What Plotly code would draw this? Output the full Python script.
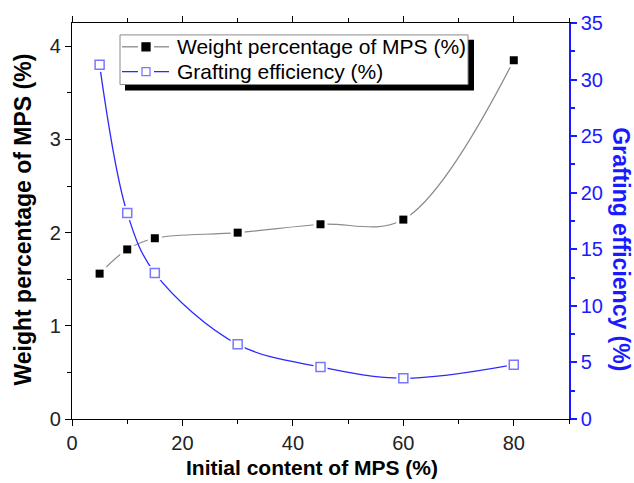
import plotly.graph_objects as go

# MPS loading series
initial_mps = [5, 10, 15, 30, 45, 60, 80]
weight_pct = [1.56, 1.82, 1.94, 2.00, 2.09, 2.14, 3.85]
grafting_eff = [31.3, 18.2, 12.9, 6.6, 4.6, 3.6, 4.8]

series_names = ["Weight percentage of MPS (%)", "Grafting efficiency (%)"]

W, H = 634, 483
L, R, T, B = 72, 65, 20, 64
FONT = "Liberation Sans, Arial, sans-serif"
BLUE = "#1a1aff"
BLUE_LINE = "#2a2aff"
BLUE_MARK = "#7878ff"
GRAY = "#8a8a8a"

pw, ph = W - L - R, H - T - B


def px_x(p):
    return (p - L) / pw


def px_y(p):
    return (H - B - p) / ph


fig = go.Figure()

# Grafting efficiency (right axis): line, white halo, open markers
fig.add_trace(go.Scatter(
    x=initial_mps, y=grafting_eff, yaxis="y2", name=series_names[1], showlegend=False,
    mode="lines", line=dict(color=BLUE_LINE, width=1.3, shape="spline"),
))
fig.add_trace(go.Scatter(
    x=initial_mps, y=grafting_eff, yaxis="y2", showlegend=False, hoverinfo="skip",
    mode="markers", marker=dict(symbol="square", size=14, color="white"),
))
fig.add_trace(go.Scatter(
    x=initial_mps, y=grafting_eff, yaxis="y2", showlegend=False, name=series_names[1],
    mode="markers",
    marker=dict(symbol="square", size=9, color="white", line=dict(color=BLUE_MARK, width=1.5)),
))

# Weight percentage (left axis): line, white halo, filled markers
fig.add_trace(go.Scatter(
    x=initial_mps, y=weight_pct, name=series_names[0], showlegend=False,
    mode="lines", line=dict(color=GRAY, width=1.2, shape="spline"),
))
fig.add_trace(go.Scatter(
    x=initial_mps, y=weight_pct, showlegend=False, hoverinfo="skip",
    mode="markers", marker=dict(symbol="square", size=14, color="white"),
))
fig.add_trace(go.Scatter(
    x=initial_mps, y=weight_pct, showlegend=False, name=series_names[0],
    mode="markers", marker=dict(symbol="square", size=8, color="black"),
))

# Legend box with drop shadow
shapes = []
shapes.append(dict(type="rect", xref="paper", yref="paper",
                   x0=px_x(125), x1=px_x(474), y0=px_y(88), y1=px_y(37),
                   fillcolor="black", line=dict(width=0), layer="above"))
shapes.append(dict(type="rect", xref="paper", yref="paper",
                   x0=px_x(120), x1=px_x(468), y0=px_y(82), y1=px_y(32),
                   fillcolor="white", line=dict(color=GRAY, width=1), layer="above"))

legend_rows = [
    (44, GRAY, dict(fill="black", edge="black", half=4)),
    (69, BLUE_LINE, dict(fill="white", edge=BLUE_MARK, half=4)),
]
for yrow, lcolor, mk in legend_rows:
    for xa, xb in [(122, 138), (154, 169)]:
        shapes.append(dict(type="line", xref="paper", yref="paper",
                           x0=px_x(xa), x1=px_x(xb), y0=px_y(yrow), y1=px_y(yrow),
                           line=dict(color=lcolor, width=1.3), layer="above"))
    h = mk["half"]
    shapes.append(dict(type="rect", xref="paper", yref="paper",
                       x0=px_x(146 - h), x1=px_x(146 + h), y0=px_y(yrow + h), y1=px_y(yrow - h),
                       fillcolor=mk["fill"], line=dict(color=mk["edge"], width=1.3), layer="above"))

fig.update_layout(
    width=W, height=H,
    margin=dict(l=L, r=R, t=T, b=B),
    paper_bgcolor="white", plot_bgcolor="white",
    font=dict(family=FONT, size=20, color="black"),
    showlegend=False,
    shapes=shapes,
    xaxis=dict(
        range=[0, 90], dtick=20, tick0=0,
        ticks="outside", ticklen=6, tickwidth=1.2, tickcolor="black",
        showline=True, linecolor="black", linewidth=1.2, mirror="ticks",
        showgrid=False, zeroline=False,
        minor=dict(dtick=10, ticks="outside", ticklen=4, tickcolor="black", showgrid=False),
        tickfont=dict(size=20, color="#222"),
    ),
    yaxis=dict(
        range=[0, 4.25], dtick=1, tick0=0,
        ticks="outside", ticklen=6, tickwidth=1.2, tickcolor="black",
        showline=True, linecolor="black", linewidth=1.2,
        showgrid=False, zeroline=False,
        minor=dict(dtick=0.5, ticks="outside", ticklen=4, tickcolor="black", showgrid=False),
        tickfont=dict(size=20, color="#222"),
    ),
    yaxis2=dict(
        range=[0, 35], dtick=5, tick0=0, overlaying="y", side="right",
        ticks="outside", ticklen=6, tickwidth=1.5, tickcolor=BLUE,
        showline=True, linecolor=BLUE, linewidth=1.5,
        showgrid=False, zeroline=False,
        minor=dict(dtick=2.5, ticks="outside", ticklen=4, tickcolor=BLUE, showgrid=False),
        tickfont=dict(size=20, color=BLUE),
    ),
)

# Legend labels
for (yrow, _, _), label in zip(legend_rows, series_names):
    fig.add_annotation(text=label, xref="paper", yref="paper",
                       x=px_x(175), y=px_y(yrow), xanchor="left", yanchor="middle",
                       showarrow=False, font=dict(family=FONT, size=21, color="black"))

# Axis titles
fig.add_annotation(text="<b>Initial content of MPS (%)</b>", xref="paper", yref="paper",
                   x=px_x(312), y=px_y(468), xanchor="center", yanchor="middle",
                   showarrow=False, font=dict(family=FONT, size=21, color="black"))
fig.add_annotation(text="<b>Weight percentage of MPS (%)</b>", xref="paper", yref="paper",
                   x=px_x(23), y=px_y(218), xanchor="center", yanchor="middle",
                   showarrow=False, textangle=-90,
                   font=dict(family=FONT, size=23, color="black"))
fig.add_annotation(text="<b>Grafting efficiency (%)</b>", xref="paper", yref="paper",
                   x=px_x(621), y=px_y(248), xanchor="center", yanchor="middle",
                   showarrow=False, textangle=90,
                   font=dict(family=FONT, size=23, color=BLUE))

fig.write_html("out.html")
